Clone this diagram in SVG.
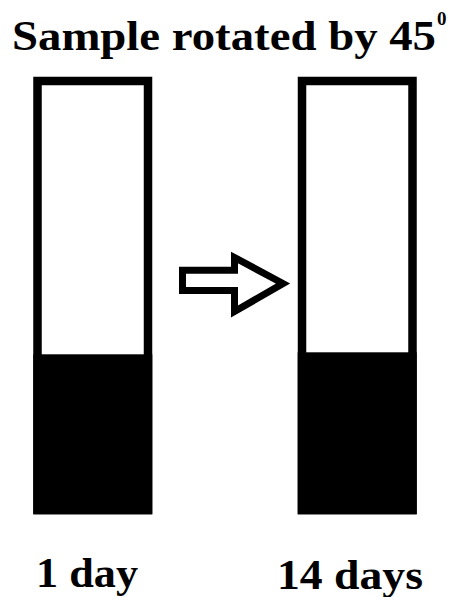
<svg xmlns="http://www.w3.org/2000/svg" width="454" height="597" viewBox="0 0 454 597">
<style>
.t{font-family:"Liberation Serif","DejaVu Serif",serif;font-weight:bold;fill:#000}
.tube{fill:#fff;stroke:#000;stroke-width:8.5}
</style>
<rect width="454" height="597" fill="#fff"/>
<text class="t" x="12" y="50" font-size="42" textLength="424" lengthAdjust="spacingAndGlyphs">Sample rotated by 45</text>
<text class="t" x="437" y="25" font-size="19">0</text>
<g id="tube1">
<rect class="tube" x="37.5" y="81" width="110.5" height="429"/>
<rect x="33.3" y="354.3" width="119" height="160" fill="#000"/>
</g>
<g id="tube2">
<rect class="tube" x="302" y="81" width="110.5" height="429"/>
<rect x="297.7" y="352.3" width="119" height="162" fill="#000"/>
</g>
<g id="connectors">
<polygon points="182.5,270.3 234.5,270.3 234.5,257.5 283,283.5 234.5,311.5 234.5,290.5 182.5,290.5" fill="#fff" stroke="#000" stroke-width="7" stroke-linejoin="miter"/>
</g>
<text class="t" x="36" y="587" font-size="42" textLength="102" lengthAdjust="spacingAndGlyphs">1 day</text>
<text class="t" x="277" y="589" font-size="42" textLength="146" lengthAdjust="spacingAndGlyphs">14 days</text>
</svg>
